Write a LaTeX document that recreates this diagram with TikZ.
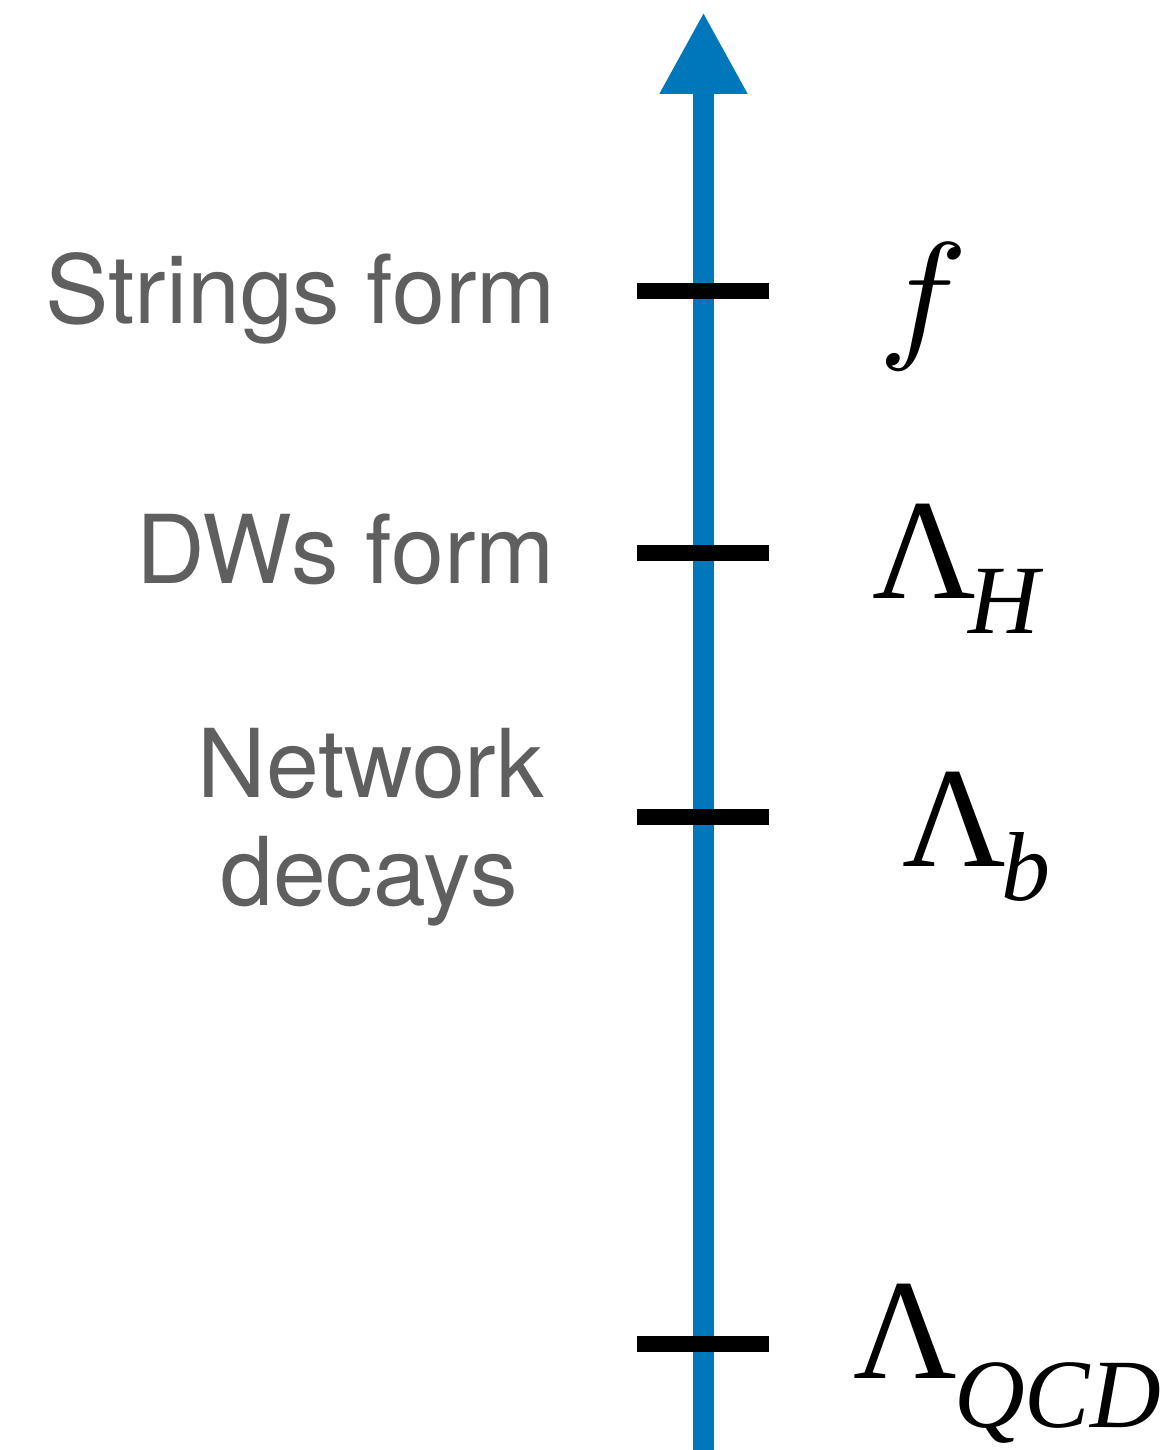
\documentclass[tikz,border=0pt]{standalone}
\usepackage{fontspec}
\usepackage{graphicx}
\usetikzlibrary{arrows.meta}
\newfontfamily\hvfont{TeX Gyre Heros}
\newfontfamily\tmsfont{Liberation Serif}
\definecolor{axisblue}{HTML}{0077BB}
\definecolor{labelgray}{HTML}{5F5F5F}
\begin{document}
\begin{tikzpicture}[x=1pt,y=-1pt,
  axis/.style={draw=axisblue,line width=21pt,-{Triangle[length=82pt,width=82pt]}},
  tickmark/.style={draw=black,line width=16pt},
  lefttext/.style={inner sep=0pt,text=labelgray,font=\hvfont\fontsize{95}{108}\selectfont},
  mainsym/.style={inner sep=0pt,anchor=base west,font=\tmsfont\fontsize{143}{143}\selectfont},
  subsym/.style={inner sep=0pt,anchor=base west,font=\tmsfont\itshape\fontsize{98}{98}\selectfont}]
\useasboundingbox (0,0) rectangle (1175,1450);
\coordinate (bot) at (703.5,1450);
\coordinate (top) at (703.5,12);
\draw[axis] (bot) -- (top);
% ticks
\coordinate (t1l) at (637,291); \coordinate (t1r) at (769,291);
\coordinate (t2l) at (637,553); \coordinate (t2r) at (769,553);
\coordinate (t3l) at (637,817); \coordinate (t3r) at (769,817);
\coordinate (t4l) at (637,1344); \coordinate (t4r) at (769,1344);
\draw[tickmark] (t1l) -- (t1r);
\draw[tickmark] (t2l) -- (t2r);
\draw[tickmark] (t3l) -- (t3r);
\draw[tickmark] (t4l) -- (t4r);
% left labels
\node[lefttext,anchor=base east] (strings) at (556,323) {Strings form};
\node[lefttext,anchor=base east] (dws) at (555,583) {DWs form};
\node[lefttext,anchor=base] (network) at (371,797) {Network};
\node[lefttext,anchor=base] (decays) at (369,905) {decays};
% right labels
\node[inner sep=0pt,anchor=base west] (f) at (878,342) {\scalebox{15}[14.3]{$f$}};
\node[mainsym] (lamH) at (872,598) {Λ};
\node[subsym] (H) at (968,633) {H};
\node[mainsym] (lamb) at (902,866) {Λ};
\node[subsym] (b) at (1001,900) {b};
\node[mainsym] (lamQ) at (853,1378) {Λ};
\node[subsym] (QCD) at (954,1427) {QCD};
\end{tikzpicture}
\end{document}
